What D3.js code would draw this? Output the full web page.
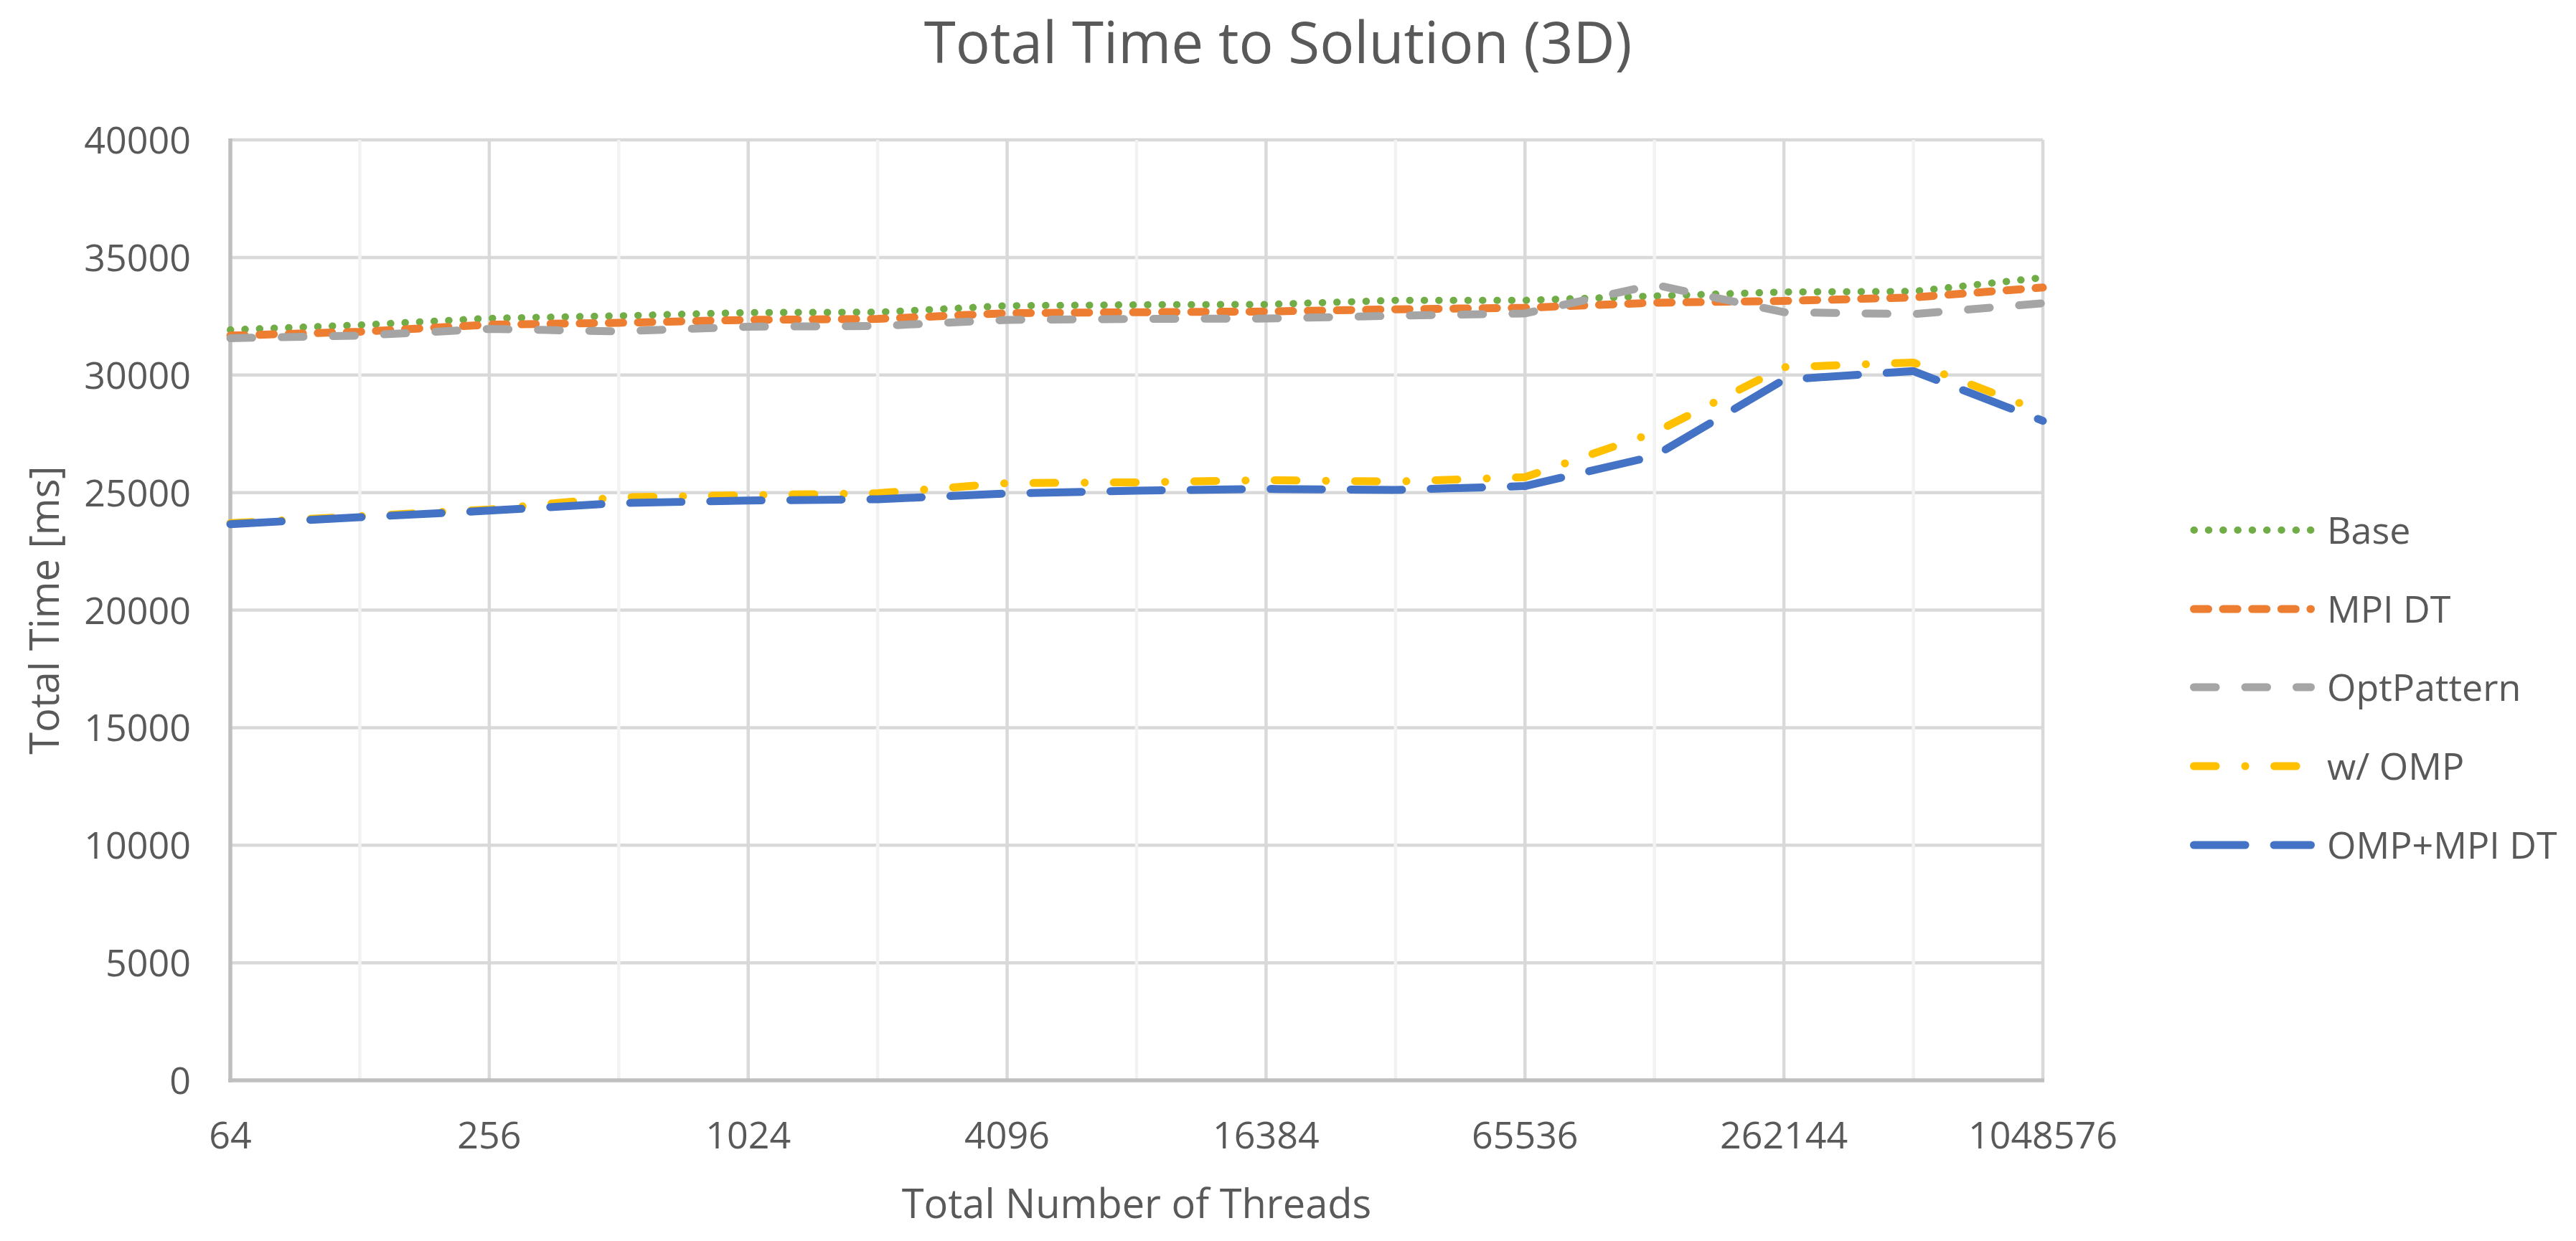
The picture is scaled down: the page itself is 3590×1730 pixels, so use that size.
<!DOCTYPE html>
<html>
<head>
<meta charset="utf-8">
<script src="https://cdn.jsdelivr.net/npm/d3@7"></script>
<style>
    html, body { margin: 0; padding: 0; background: #ffffff; }
    svg text { font-family: "Open Sans", "Noto Sans", sans-serif; fill: #595959; }
</style>
</head>
<body>
<svg id="chart"></svg>
<script>
// Categories (total number of threads)
const threads = ["64", "128", "256", "512", "1024", "2048", "4096", "8192", "16384",
    "32768", "65536", "131072", "262144", "524288", "1048576"];

// Series values, total time [ms]
const base = [31920, 32125, 32410, 32515, 32655, 32670, 32945, 32985, 33000, 33175, 33175, 33360, 33530, 33555, 34140];
const mpiDt = [31675, 31840, 32140, 32220, 32345, 32385, 32630, 32670, 32700, 32795, 32860, 33075, 33150, 33300, 33720];
const optPattern = [31565, 31675, 31960, 31855, 32055, 32085, 32345, 32385, 32400, 32520, 32620, 33840, 32670, 32590, 33050];
const withOmp = [23700, 23990, 24280, 24800, 24890, 24970, 25400, 25435, 25530, 25465, 25655, 27550, 30330, 30530, 28430];
const ompMpiDt = [23655, 23950, 24230, 24550, 24660, 24715, 24960, 25080, 25155, 25110, 25275, 26550, 29800, 30165, 28050];

// Y axis ticks
const yTicks = [0, 5000, 10000, 15000, 20000, 25000, 30000, 35000, 40000];

const seriesNames = ["Base", "MPI DT", "OptPattern", "w/ OMP", "OMP+MPI DT"];
const seriesValues = [base, mpiDt, optPattern, withOmp, ompMpiDt];

document.addEventListener("DOMContentLoaded", () => {
    const width = 3590;
    const height = 1730;

    const svg = d3.select("#chart")
        .attr("width", width)
        .attr("height", height)
        .attr("viewBox", `0 0 ${width} ${height}`);

    svg.append("rect")
        .attr("width", width)
        .attr("height", height)
        .attr("fill", "#ffffff");

    // Plot area
    const plot = { left: 321, right: 2847, top: 195, bottom: 1506 };

    const xScale = d3.scalePoint()
        .domain(threads)
        .range([plot.left, plot.right]);

    const yScale = d3.scaleLinear()
        .domain([0, 40000])
        .range([plot.bottom, plot.top]);

    // Line styles (Excel-like dash patterns, round caps)
    const styles = [
        { color: "#70AD47", width: 10, dash: "0.5 19.8" },
        { color: "#ED7D31", width: 11, dash: "20 20.6" },
        { color: "#A5A5A5", width: 11, dash: "30.5 41" },
        { color: "#FFC000", width: 11, dash: "30.5 41 0.1 40.5" },
        { color: "#4472C4", width: 11, dash: "71.6 40" }
    ];

    // Horizontal gridlines
    svg.append("g")
        .selectAll("line")
        .data(yTicks.filter(t => t > 0))
        .enter()
        .append("line")
        .attr("x1", plot.left)
        .attr("x2", plot.right)
        .attr("y1", d => yScale(d))
        .attr("y2", d => yScale(d))
        .attr("stroke", "#D9D9D9")
        .attr("stroke-width", 4.5);

    // Vertical gridlines: darker at labelled categories, lighter in between
    svg.append("g")
        .selectAll("line")
        .data(threads.slice(1))
        .enter()
        .append("line")
        .attr("x1", d => xScale(d))
        .attr("x2", d => xScale(d))
        .attr("y1", plot.top)
        .attr("y2", plot.bottom)
        .attr("stroke", d => threads.indexOf(d) % 2 === 0 ? "#D9D9D9" : "#F2F2F2")
        .attr("stroke-width", 4.5);

    // Axis lines
    svg.append("line")
        .attr("x1", plot.left).attr("x2", plot.left)
        .attr("y1", plot.top - 2).attr("y2", plot.bottom + 3)
        .attr("stroke", "#BFBFBF")
        .attr("stroke-width", 5.5);

    svg.append("line")
        .attr("x1", plot.left - 3).attr("x2", plot.right + 2)
        .attr("y1", plot.bottom).attr("y2", plot.bottom)
        .attr("stroke", "#BFBFBF")
        .attr("stroke-width", 5.5);

    // Y tick labels
    svg.append("g")
        .selectAll("text")
        .data(yTicks)
        .enter()
        .append("text")
        .attr("x", 266)
        .attr("y", d => yScale(d) + 19)
        .attr("text-anchor", "end")
        .style("font-size", "52px")
        .text(d => d);

    // X tick labels (every other category)
    svg.append("g")
        .selectAll("text")
        .data(threads.filter((d, i) => i % 2 === 0))
        .enter()
        .append("text")
        .attr("x", d => xScale(d))
        .attr("y", 1601)
        .attr("text-anchor", "middle")
        .style("font-size", "52px")
        .text(d => d);

    // Series lines
    const line = d3.line()
        .x((d, i) => xScale(threads[i]))
        .y(d => yScale(d));

    seriesValues.forEach((values, k) => {
        svg.append("path")
            .datum(values)
            .attr("d", line)
            .attr("fill", "none")
            .attr("stroke", styles[k].color)
            .attr("stroke-width", styles[k].width)
            .attr("stroke-dasharray", styles[k].dash)
            .attr("stroke-linecap", "round")
            .attr("stroke-linejoin", "round");
    });

    // Chart title
    svg.append("text")
        .attr("x", 1781)
        .attr("y", 88)
        .attr("text-anchor", "middle")
        .style("font-size", "80px")
        .text("Total Time to Solution (3D)");

    // Axis titles
    svg.append("text")
        .attr("x", (plot.left + plot.right) / 2)
        .attr("y", 1698)
        .attr("text-anchor", "middle")
        .style("font-size", "56px")
        .text("Total Number of Threads");

    svg.append("text")
        .attr("transform", `translate(82, ${(plot.top + plot.bottom) / 2}) rotate(-90)`)
        .attr("text-anchor", "middle")
        .style("font-size", "56px")
        .text("Total Time [ms]");

    // Legend
    const legendRows = [739, 849, 958, 1068, 1178];

    const legend = svg.append("g")
        .selectAll("g")
        .data(seriesNames)
        .enter()
        .append("g")
        .attr("transform", (d, i) => `translate(0, ${legendRows[i]})`);

    legend.append("line")
        .attr("x1", 3057.5)
        .attr("x2", 3220.5)
        .attr("y1", 0)
        .attr("y2", 0)
        .attr("stroke", (d, i) => styles[i].color)
        .attr("stroke-width", (d, i) => styles[i].width)
        .attr("stroke-dasharray", (d, i) => styles[i].dash)
        .attr("stroke-linecap", "round");

    legend.append("text")
        .attr("x", 3243)
        .attr("y", 19)
        .style("font-size", "52px")
        .text(d => d);
});
</script>
</body>
</html>
